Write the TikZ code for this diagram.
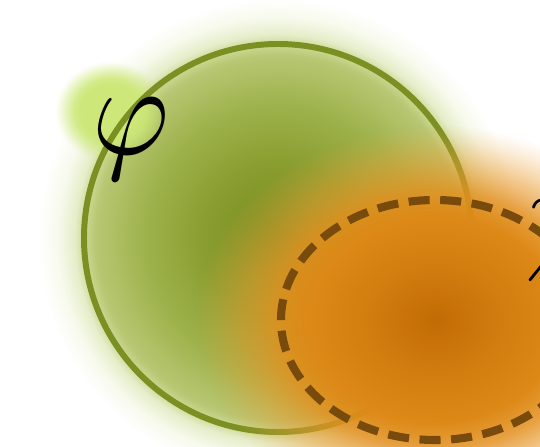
\documentclass[tikz,border=0pt]{standalone}
\usetikzlibrary{fadings}

\definecolor{philine}{RGB}{122,144,34}
\definecolor{chidash}{RGB}{120,74,12}
\definecolor{phiglow}{RGB}{205,232,120}

% green halo round the circle (path edge sits at 25bp)
\pgfdeclareradialshading{phishade}{\pgfpointorigin}{%
  rgb(0bp)=(0.47,0.55,0.12);
  rgb(8bp)=(0.54,0.62,0.19);
  rgb(14bp)=(0.62,0.70,0.30);
  rgb(19bp)=(0.72,0.78,0.45);
  rgb(20.2bp)=(0.80,0.85,0.58);
  rgb(21.2bp)=(0.90,0.93,0.79);
  rgb(23bp)=(0.97,0.98,0.93);
  rgb(25bp)=(1,1,1);
  rgb(50bp)=(1,1,1)}
% orange blob
\pgfdeclareradialshading{chishade}{\pgfpointorigin}{%
  rgb(0bp)=(0.76,0.42,0.02);
  rgb(7bp)=(0.82,0.49,0.06);
  rgb(15bp)=(0.88,0.55,0.10);
  rgb(25bp)=(0.94,0.66,0.27);
  rgb(50bp)=(0.94,0.66,0.27)}
\pgfdeclareradialshading{softmask}{\pgfpointorigin}{%
  color(0bp)=(white);
  color(13bp)=(white);
  color(16.5bp)=(white!85!black);
  color(20bp)=(white!50!black);
  color(23bp)=(white!18!black);
  color(25bp)=(black);
  color(50bp)=(black)}
\pgfdeclarefading{softfade}{\pgfuseshading{softmask}}

\begin{document}
\begin{tikzpicture}[
    phicircle/.style={draw=philine, line width=3.4pt},
    chiellipse/.style={draw=chidash, line width=4.6pt, dash pattern=on 12pt off 6pt},
    biglabel/.style={inner sep=0pt, xscale=6.7, yscale=7.4}]
  \useasboundingbox (0,0) rectangle (10.8,8.92);
  \clip (0,0) rectangle (10.8,8.92);
  \coordinate (phic) at (5.56,4.16);
  \coordinate (chic) at (8.7,2.52);

  % Green halo
  \shade[shading=phishade] (phic) circle (4.8);
  % Glow behind the label
  \fill[phiglow, path fading=softfade] (2.2,6.7) ellipse (1.1 and 1.0);
  \draw[phicircle] (phic) circle (3.88);

  % Orange blob
  \shade[shading=chishade, path fading=softfade] (chic) ellipse (4.8 and 3.9);
  \draw[chiellipse] (chic) ellipse (3.08 and 2.4);

  % Labels
  \node[biglabel] (phi) at (2.62,6.14) {$\varphi$};
  \node[biglabel] (chi) at (11.24,4.1) {$\chi$};
\end{tikzpicture}
\end{document}
